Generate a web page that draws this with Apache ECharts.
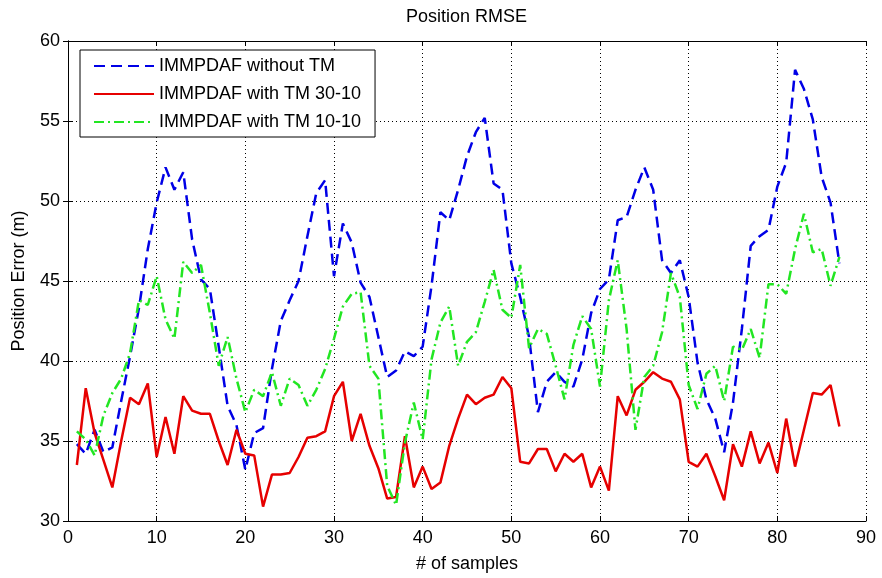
<!DOCTYPE html>
<html lang="en">
<head>
    <meta charset="UTF-8">
    <title>Position RMSE</title>
    <script src="https://cdn.jsdelivr.net/npm/echarts@6.0.0/dist/echarts.min.js"></script>
    <style>
        html, body { margin: 0; padding: 0; background: #fff; }
        #chart { width: 882px; height: 578px; }
    </style>
</head>
<body>
    <div id="chart"></div>
    <script>
        // values, one per sample (1..87)
        const withoutTM = [
            34.8, 34.2, 35.7, 34.3, 34.6, 37.5, 40.3, 43.3, 47.0, 49.9,
            52.1, 50.7, 51.8, 47.6, 45.1, 44.5, 40.9, 37.2, 36.0, 33.2,
            35.5, 35.8, 39.5, 42.5, 43.8, 45.0, 47.8, 50.5, 51.3, 45.3,
            48.6, 47.4, 44.9, 44.0, 41.5, 39.0, 39.4, 40.6, 40.3, 40.9,
            44.7, 49.3, 48.8, 50.7, 52.8, 54.3, 55.2, 51.1, 50.7, 46.1,
            44.0, 41.5, 36.8, 38.7, 39.3, 38.7, 38.4, 40.1, 43.0, 44.5,
            45.1, 48.8, 49.0, 50.7, 52.1, 50.7, 46.3, 45.5, 46.3, 44.0,
            39.9, 37.6, 36.4, 34.3, 37.4, 42.0, 47.2, 47.8, 48.2, 50.9,
            52.4, 58.2, 57.0, 55.1, 51.5, 49.9, 46.1
        ];
        const withTM3010 = [
            33.5, 38.3, 35.5, 33.8, 32.1, 35.0, 37.7, 37.3, 38.6, 34.0,
            36.5, 34.2, 37.8, 36.9, 36.7, 36.7, 35.0, 33.5, 35.7, 34.2,
            34.1, 30.9, 32.9, 32.9, 33.0, 34.0, 35.2, 35.3, 35.6, 37.8,
            38.7, 35.0, 36.7, 34.7, 33.3, 31.4, 31.5, 35.3, 32.1, 33.4,
            32.0, 32.4, 34.7, 36.4, 37.9, 37.3, 37.7, 37.9, 39.0, 38.3,
            33.7, 33.6, 34.5, 34.5, 33.1, 34.2, 33.7, 34.2, 32.1, 33.4,
            31.9, 37.8, 36.6, 38.2, 38.7, 39.3, 38.9, 38.7, 37.6, 33.7,
            33.4, 34.2, 32.8, 31.3, 34.8, 33.4, 35.6, 33.6, 34.9, 33.0,
            36.4, 33.4, 35.7, 38.0, 37.9, 38.5, 35.9
        ];
        const withTM1010 = [
            35.6, 35.1, 34.1, 36.6, 38.0, 38.9, 40.5, 43.8, 43.5, 45.3,
            42.6, 41.4, 46.2, 45.5, 46.0, 43.0, 39.7, 41.5, 38.9, 36.8,
            38.2, 37.8, 39.3, 37.2, 38.9, 38.5, 37.2, 38.2, 39.5, 41.4,
            43.4, 44.2, 44.3, 39.7, 38.9, 32.2, 31.0, 34.9, 37.4, 35.1,
            40.1, 42.4, 43.4, 39.7, 41.2, 41.8, 43.7, 45.7, 43.2, 42.7,
            46.0, 40.8, 42.0, 41.7, 39.7, 37.6, 41.0, 42.8, 42.0, 38.4,
            43.8, 46.3, 42.0, 35.7, 39.0, 39.7, 41.8, 45.5, 44.0, 38.5,
            37.0, 39.2, 39.7, 37.5, 40.9, 40.7, 42.0, 40.2, 44.8, 44.8,
            44.2, 47.0, 49.2, 46.8, 47.0, 44.7, 46.5
        ];
        const seriesNames = ['IMMPDAF without TM', 'IMMPDAF with TM 30-10', 'IMMPDAF with TM 10-10'];

        const font = "'Liberation Sans', Arial, sans-serif";
        const toPairs = arr => arr.map((v, i) => [i + 1, v]);

        const chart = echarts.init(document.getElementById('chart'));

        const tickStyle = { inside: true, length: 5, lineStyle: { color: '#000' } };
        const axisLine = { show: true, lineStyle: { color: '#000', width: 1 } };
        const gridLine = { show: true, lineStyle: { color: '#000', type: [1, 3], width: 1 } };

        chart.setOption({
            animation: false,
            backgroundColor: '#fff',
            title: {
                text: 'Position RMSE',
                left: 401,
                top: 3,
                textStyle: { fontFamily: font, fontSize: 18, fontWeight: 'normal', color: '#000' }
            },
            legend: {
                data: seriesNames,
                orient: 'vertical',
                left: 80,
                top: 50,
                padding: [6, 14, 5, 13],
                itemGap: 8,
                itemWidth: 60,
                itemHeight: 14,
                backgroundColor: '#fff',
                borderColor: '#000',
                borderWidth: 1,
                borderRadius: 0,
                // hide the marker dot, keep the line sample
                itemStyle: { color: 'transparent', borderWidth: 0 },
                textStyle: { fontFamily: font, fontSize: 18, color: '#000', lineHeight: 20 }
            },
            grid: { left: 68, right: 16, top: 41, bottom: 56 },
            xAxis: [
                {
                    type: 'value', min: 0, max: 90, interval: 10,
                    name: '# of samples', nameLocation: 'middle', nameGap: 34,
                    nameTextStyle: { fontFamily: font, fontSize: 18, color: '#000' },
                    axisLine: axisLine, axisTick: tickStyle, splitLine: gridLine,
                    axisLabel: { fontFamily: font, fontSize: 18, color: '#000', margin: 8 }
                },
                {
                    type: 'value', min: 0, max: 90, interval: 10, position: 'top',
                    axisLine: axisLine, axisTick: tickStyle,
                    axisLabel: { show: false }, splitLine: { show: false }
                }
            ],
            yAxis: [
                {
                    type: 'value', min: 30, max: 60, interval: 5,
                    name: 'Position Error (m)', nameLocation: 'middle', nameGap: 40,
                    nameTextStyle: { fontFamily: font, fontSize: 18, color: '#000' },
                    axisLine: axisLine, axisTick: tickStyle, splitLine: gridLine,
                    axisLabel: { fontFamily: font, fontSize: 18, color: '#000', margin: 8 }
                },
                {
                    type: 'value', min: 30, max: 60, interval: 5, position: 'right',
                    axisLine: axisLine, axisTick: tickStyle,
                    axisLabel: { show: false }, splitLine: { show: false }
                }
            ],
            series: [
                {
                    name: seriesNames[0], type: 'line', symbol: 'none',
                    data: toPairs(withoutTM),
                    lineStyle: { color: '#0000e6', width: 2.5, type: [11, 6] },
                    itemStyle: { color: '#0000e6' }
                },
                {
                    name: seriesNames[1], type: 'line', symbol: 'none',
                    data: toPairs(withTM3010),
                    lineStyle: { color: '#e60000', width: 2.5 },
                    itemStyle: { color: '#e60000' }
                },
                {
                    name: seriesNames[2], type: 'line', symbol: 'none',
                    data: toPairs(withTM1010),
                    lineStyle: { color: '#22e622', width: 2.5, type: [10, 4, 2, 4] },
                    itemStyle: { color: '#22e622' }
                }
            ]
        });
    </script>
</body>
</html>
